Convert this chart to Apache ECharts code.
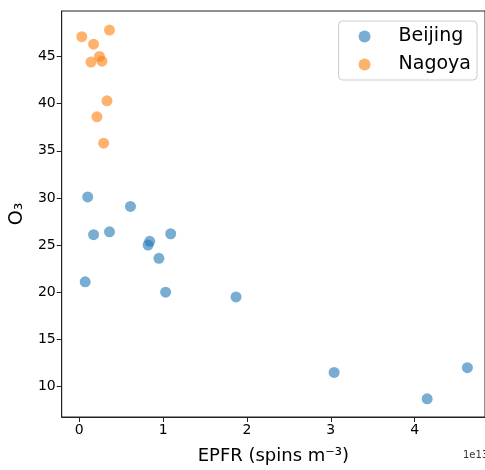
<!DOCTYPE html>
<html>
<head>
<meta charset="utf-8">
<script src="https://cdn.jsdelivr.net/npm/echarts@6/dist/echarts.min.js"></script>
<style>
html, body { margin: 0; padding: 0; background: #fff; }
#chart { width: 485px; height: 470px; }
</style>
</head>
<body>
<div id="chart"></div>
<script>
// EPFR in units of 1e13 spins m^-3
const beijingEpfr = [0.10, 0.61, 0.17, 0.36, 0.84, 0.82, 1.09, 0.95, 0.07, 1.03, 1.87, 3.04, 4.15, 4.63];
const beijingO3 = [30.1, 29.1, 26.1, 26.4, 25.4, 25.0, 26.2, 23.6, 21.1, 20.0, 19.5, 11.5, 8.7, 12.0];
const nagoyaEpfr = [0.03, 0.36, 0.17, 0.24, 0.14, 0.27, 0.33, 0.21, 0.29];
const nagoyaO3 = [47.1, 47.8, 46.3, 45.0, 44.4, 44.5, 40.3, 38.6, 35.8];
const xTicks = [0, 1, 2, 3, 4];
const yTicks = [10, 15, 20, 25, 30, 35, 40, 45];

const zip = (xs, ys) => xs.map((x, i) => [x, ys[i]]);

const chart = echarts.init(document.getElementById('chart'));
const axisCol = '#222';
const font = 'DejaVu Sans';

chart.setOption({
    animation: false,
    textStyle: { fontFamily: font },
    grid: {
        left: 61, top: 11, right: 0, bottom: 46,
        show: true, borderColor: axisCol, borderWidth: 1
    },
    legend: {
        right: 8, top: 21,
        orient: 'vertical',
        icon: 'circle',
        itemWidth: 12, itemHeight: 12,
        itemGap: 9,
        padding: [6, 6, 6, 20],
        borderColor: '#ccc', borderWidth: 1, borderRadius: 4,
        textStyle: { fontSize: 19, color: '#000', padding: [0, 0, 0, 23] },
        data: ['Beijing', 'Nagoya']
    },
    xAxis: {
        type: 'value',
        min: -0.21, max: 4.84,
        name: 'EPFR (spins m⁻³)',
        nameLocation: 'middle', nameGap: 30,
        nameTextStyle: { fontSize: 18, color: '#000' },
        splitLine: { show: false },
        axisLine: { onZero: false, lineStyle: { color: axisCol } },
        axisTick: { customValues: xTicks, length: 5, lineStyle: { color: axisCol } },
        axisLabel: { customValues: xTicks, fontSize: 14, color: '#000', margin: 6 }
    },
    yAxis: {
        type: 'value',
        min: 6.77, max: 49.82,
        name: 'O₃',
        nameLocation: 'middle', nameGap: 28,
        nameTextStyle: { fontSize: 19, color: '#000' },
        splitLine: { show: false },
        axisLine: { show: true, onZero: false, lineStyle: { color: axisCol } },
        axisTick: { show: true, customValues: yTicks, length: 5, lineStyle: { color: axisCol } },
        axisLabel: { customValues: yTicks, fontSize: 14, color: '#000', margin: 6 }
    },
    graphic: [{
        type: 'text', left: 463, top: 450,
        style: { text: '1e13', fontSize: 10, fill: '#333', fontFamily: font }
    }],
    series: [
        {
            name: 'Beijing', type: 'scatter', symbolSize: 11,
            itemStyle: { color: '#1f77b4', opacity: 0.6 },
            data: zip(beijingEpfr, beijingO3)
        },
        {
            name: 'Nagoya', type: 'scatter', symbolSize: 11,
            itemStyle: { color: '#ff7f0e', opacity: 0.6 },
            data: zip(nagoyaEpfr, nagoyaO3)
        }
    ]
});
</script>
</body>
</html>
